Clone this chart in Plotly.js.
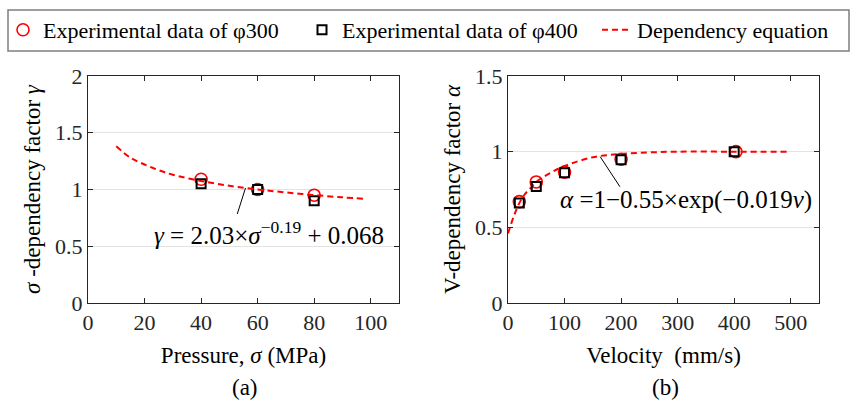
<!DOCTYPE html>
<html>
<head>
<meta charset="utf-8">
<script src="https://cdn.plot.ly/plotly-3.0.1.min.js"></script>
<style>
html,body{margin:0;padding:0;background:#fff;}
#chart{width:850px;height:403px;}
svg text, svg tspan, #chart text, #chart tspan, .main-svg text, .main-svg tspan {
  font-family:'Liberation Serif','Times New Roman',serif !important;
}
</style>
</head>
<body>
<div id="chart"></div>
<script>
// Panel (a): pressure dependency
const pressure = [40, 60, 80];
const gamma300 = [1.09, 1.00, 0.95];
const gamma400 = [1.05, 1.00, 0.90];
const curvePressure = [10, 15, 20, 25, 30, 40, 50, 60, 70, 80, 90, 98];
const curveGamma = [1.38, 1.28, 1.22, 1.17, 1.13, 1.075, 1.033, 1.00, 0.974, 0.951, 0.931, 0.918];

// Panel (b): velocity dependency
const velocity = [20, 50, 100, 200, 403];
const velocity400 = [20, 50, 100, 200, 400];
const alpha300 = [0.67, 0.80, 0.865, 0.95, 1.00];
const alpha400 = [0.66, 0.77, 0.86, 0.947, 1.00];
const curveVelocity = [0, 10, 20, 30, 40, 50, 75, 100, 150, 200, 250, 300, 400, 500];
const curveAlpha = [0.46, 0.57, 0.66, 0.72, 0.76, 0.80, 0.86, 0.905, 0.963, 0.985, 0.995, 1.0, 1.0, 1.0];

const xTicksA = [0, 20, 40, 60, 80, 100];
const yTicksA = [0, 0.5, 1, 1.5, 2];
const xTicksB = [0, 100, 200, 300, 400, 500];
const yTicksB = [0, 0.5, 1, 1.5];

const FONT = 'Liberation Serif, serif';
const AX = '#262626';
const red = '#ff0000';

const circ = {symbol: 'circle-open', size: 12, color: red, line: {width: 1.6, color: red}};
const sq = {symbol: 'square-open', size: 9, color: '#000', line: {width: 2, color: '#000'}};
const dashLine = {color: red, width: 2, dash: '6px,4px', shape: 'spline'};

const traces = [
  {x: pressure, y: gamma300, mode: 'markers', marker: circ, name: 'Experimental data of φ300', xaxis: 'x', yaxis: 'y', legend: 'legend'},
  {x: pressure, y: gamma400, mode: 'markers', marker: sq, name: 'Experimental data of φ400', xaxis: 'x', yaxis: 'y', legend: 'legend2'},
  {x: curvePressure, y: curveGamma, mode: 'lines', line: dashLine, name: 'Dependency equation', xaxis: 'x', yaxis: 'y', legend: 'legend3'},
  {x: curveVelocity, y: curveAlpha, mode: 'lines', line: dashLine, showlegend: false, xaxis: 'x2', yaxis: 'y2'},
  {x: velocity, y: alpha300, mode: 'markers', marker: circ, showlegend: false, xaxis: 'x2', yaxis: 'y2'},
  {x: velocity400, y: alpha400, mode: 'markers', marker: sq, showlegend: false, xaxis: 'x2', yaxis: 'y2'}
];

function xax(domain, range, ticks, title, anchor) {
  return {domain: domain, range: range, tickvals: ticks, ticktext: ticks.map(String),
    showgrid: false, zeroline: false, showline: true, linecolor: AX, linewidth: 1,
    mirror: 'ticks', ticks: 'inside', ticklen: 5, tickcolor: AX,
    tickfont: {family: FONT, size: 22, color: AX}, anchor: anchor,
    title: {text: title, font: {family: FONT, size: 23, color: '#000'}, standoff: 12}};
}
function yax(domain, range, ticks, title, anchor) {
  return {domain: domain, range: range, tickvals: ticks, ticktext: ticks.map(String),
    showgrid: true, gridcolor: '#e3e3e3', gridwidth: 1, zeroline: false, showline: true,
    linecolor: AX, linewidth: 1, mirror: 'ticks', ticks: 'inside', ticklen: 5, tickcolor: AX,
    tickfont: {family: FONT, size: 22, color: AX}, anchor: anchor,
    title: {text: title, font: {family: FONT, size: 23, color: '#000'}, standoff: 8}};
}

function leg(xpx) {
  return {orientation: 'h', x: xpx / 850, y: 1 - 30 / 403, xanchor: 'left', yanchor: 'middle',
    borderwidth: 0, bgcolor: 'rgba(0,0,0,0)',
    font: {family: FONT, size: 22, color: '#000'}, itemwidth: 30};
}

const yDom = [1 - 303 / 403, 1 - 76 / 403];

const layout = {
  width: 850, height: 403,
  margin: {l: 0, r: 0, t: 0, b: 0},
  paper_bgcolor: '#fff', plot_bgcolor: '#fff',
  font: {family: FONT, size: 22, color: '#000'},
  showlegend: true,
  legend: leg(3),
  legend2: leg(302),
  legend3: leg(597),
  xaxis: xax([88 / 850, 399 / 850], [0, 110], xTicksA, 'Pressure, <i>σ</i> (MPa)', 'y'),
  yaxis: yax(yDom, [0, 2], yTicksA, '<i>σ</i> -dependency factor <i>γ</i>', 'x'),
  xaxis2: xax([508 / 850, 819 / 850], [0, 550], xTicksB, 'Velocity  (mm/s)', 'y2'),
  yaxis2: yax(yDom, [0, 1.5], yTicksB, 'V-dependency factor <i>α</i>', 'x2'),
  shapes: [
    {type: 'rect', xref: 'paper', yref: 'paper', x0: 8 / 850, x1: 849 / 850, y0: 1 - 51 / 403, y1: 1 - 10 / 403,
      line: {color: '#7f7f7f', width: 1.5}, fillcolor: 'rgba(0,0,0,0)', layer: 'below'},
    {type: 'line', xref: 'x', yref: 'y', x0: 52.8, y0: 0.784, x1: 55.7, y1: 1.013, line: {color: '#000', width: 1}},
    {type: 'line', xref: 'x2', yref: 'y2', x0: 163, y0: 0.967, x1: 198, y1: 0.768, line: {color: '#000', width: 1}}
  ],
  annotations: [
    {xref: 'x', yref: 'y', x: 64, y: 0.62, showarrow: false, xanchor: 'center', yanchor: 'middle',
      text: '<i>γ</i> = 2.03×<i>σ</i><sup>−0.19</sup> + 0.068', font: {family: FONT, size: 25, color: '#000'}},
    {xref: 'x2', yref: 'y2', x: 315, y: 0.68, showarrow: false, xanchor: 'center', yanchor: 'middle',
      text: '<i>α</i> =1−0.55×exp(−0.019<i>v</i>)', font: {family: FONT, size: 25, color: '#000'}},
    {xref: 'paper', yref: 'paper', x: 245 / 850, y: 1 - 387 / 403, showarrow: false, xanchor: 'center', yanchor: 'middle',
      text: '(a)', font: {family: FONT, size: 23, color: '#000'}},
    {xref: 'paper', yref: 'paper', x: 665 / 850, y: 1 - 387 / 403, showarrow: false, xanchor: 'center', yanchor: 'middle',
      text: '(b)', font: {family: FONT, size: 23, color: '#000'}}
  ]
};

function forceSerif(root) {
  root.querySelectorAll('text, tspan').forEach(function (el) {
    if (el.style.getPropertyValue('font-family').indexOf('Liberation Serif') !== 0) {
      el.style.setProperty('font-family', "'Liberation Serif', 'Times New Roman', serif", 'important');
    }
  });
}

const gdEl = document.getElementById('chart');
Plotly.newPlot(gdEl, traces, layout, {displayModeBar: false, staticPlot: true}).then(function (gd) {
  forceSerif(gd);
  const obs = new MutationObserver(function () { forceSerif(gd); });
  obs.observe(gd, {subtree: true, childList: true, attributes: true, attributeFilter: ['style']});
});
</script>
</body>
</html>
